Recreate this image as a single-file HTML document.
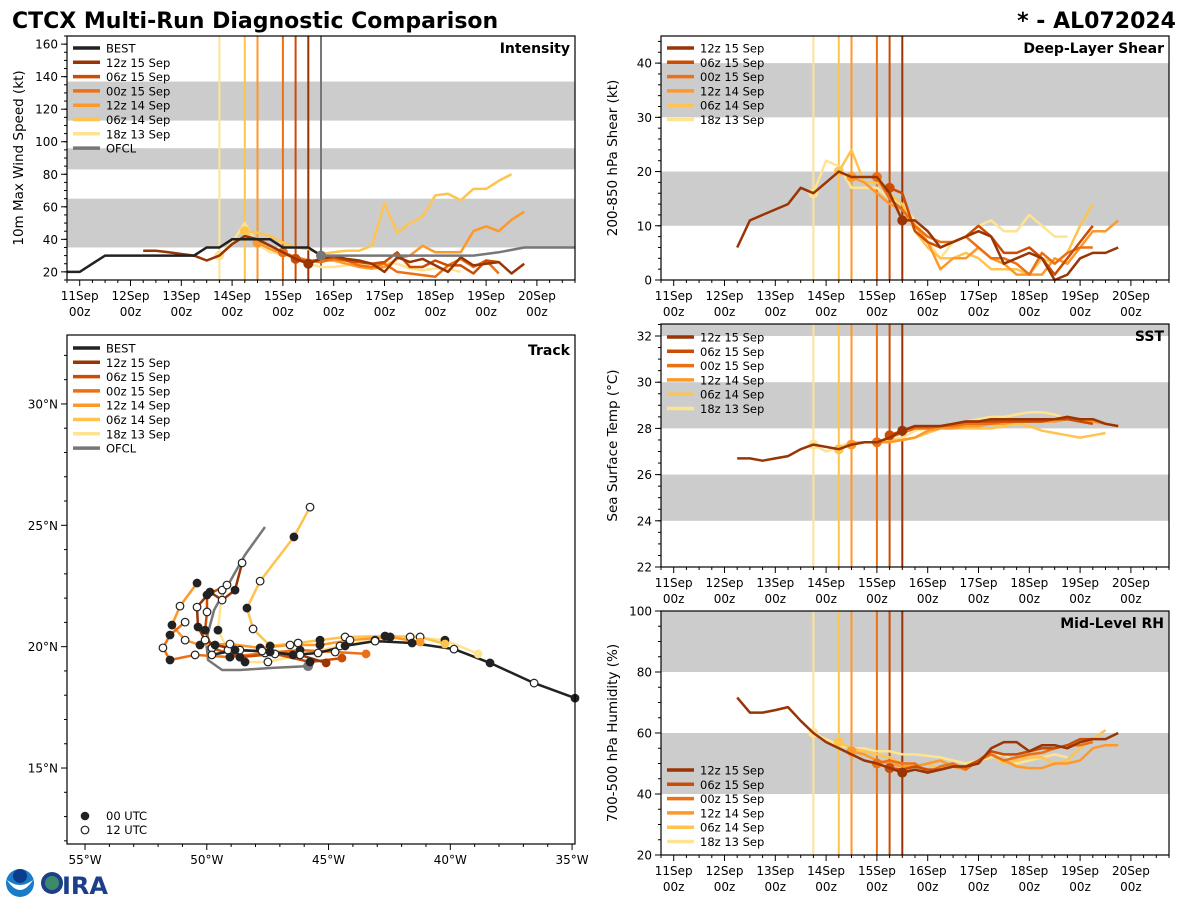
<!DOCTYPE html>
<html><head><meta charset="utf-8"><style>
html,body{margin:0;padding:0;background:#fff;}
svg{display:block;font-family:"DejaVu Sans","Liberation Sans",sans-serif;}
</style></head><body>
<svg id="chart" width="1200" height="900" viewBox="0 0 1200 900" xmlns="http://www.w3.org/2000/svg">
<text x="12" y="28" font-size="22" font-weight="bold">CTCX Multi-Run Diagnostic Comparison</text>
<text x="1176" y="28" font-size="22" font-weight="bold" text-anchor="end">* - AL072024</text>
<g>
<circle cx="20" cy="883" r="14" fill="#1a7cc9"/>
<path d="M7,880 Q20,900 33,880 Q20,890 7,880Z" fill="#fff"/>
<circle cx="20" cy="876" r="7" fill="#0b3d8c"/>
<circle cx="52" cy="883" r="11" fill="#1d3f8a"/>
<circle cx="52" cy="883" r="7" fill="#3d8a6a"/>
<text x="62" y="894" font-size="24" font-weight="bold" fill="#1d3f8a">IRA</text>
</g>
<g id="root"></g>
</svg>
<script>
// ---------- data ----------
const runNames = ["12z 15 Sep","06z 15 Sep","00z 15 Sep","12z 14 Sep","06z 14 Sep","18z 13 Sep"];
const runColors = ["#993404","#cc4c02","#ec7014","#fe9929","#fec44f","#fee391"];
const runStart = [4.5,4.25,4.0,3.5,3.25,2.75];
const dayLabels = ["11Sep","12Sep","13Sep","14Sep","15Sep","16Sep","17Sep","18Sep","19Sep","20Sep"];

const bestIntDay0 = -0.25;
const bestInt = [20,20,25,30,30,30,30,30,30,30,30,35,35,40,40,40,40,35,35,35,30];
const ofclDays = [4.75,5.25,5.75,6.25,6.75,7.25,7.75,8.25,8.75,9.75];
const ofclInt = [30,30,30,30,30,30,30,32,35,35];
const intStart = [1.25,4.25,4.0,3.5,3.25,2.75];
const intVals = [
 [33,33,32,31,30,27,30,37,42,40,36,32,28,25,28,30,28,27,25,20,29,26,28,24,20,29,24,25,26,19,25],
 [28,26,28,29,27,26,25,26,32,23,23,27,24,24,19,27,26],
 [32,29,27,26,28,27,24,23,25,20,19,18,17,24,28,23,27,19],
 [38,34,31,29,27,27,27,25,23,22,23,28,30,36,32,32,32,45,48,45,52,57],
 [45,44,42,38,35,34,31,32,33,33,36,62,44,50,54,67,68,64,71,71,76,80],
 [30,38,50,37,32,31,28,25,23,23,24,25,25,26,25,22,21,22,22,20]
];
const shearStart = [1.25,4.25,4.0,3.5,3.25,2.75];
const shearVals = [
 [6,11,12,13,14,17,16,18,20,19,19,19,16,11,11,9,6,7,8,9,8,3,4,5,4,0,1,4,5,5,6],
 [17,16,9,7,6,7,8,10,8,5,5,6,4,1,4,7,10],
 [19,15,13,10,8,7,7,8,6,4,4,3,1,5,3,5,6,6],
 [19,18,16,14,13,10,7,2,4,4,6,4,3,1,1,1,4,3,6,9,9,11],
 [20,24,18,18,16,14,9,6,4,4,5,4,2,2,2,1,4,3,5,10,14],
 [16,22,21,17,17,17,15,14,11,7,4,7,8,10,11,9,9,12,10,8,8]
];
const sstStart = [1.25,4.25,4.0,3.5,3.25,2.75];
const sstVals = [
 [26.7,26.7,26.6,26.7,26.8,27.1,27.3,27.2,27.1,27.3,27.4,27.4,27.6,27.9,28.1,28.1,28.1,28.2,28.3,28.3,28.4,28.4,28.4,28.4,28.4,28.4,28.5,28.4,28.4,28.2,28.1],
 [27.7,27.9,28.1,28.1,28.1,28.2,28.3,28.3,28.3,28.3,28.3,28.3,28.3,28.4,28.4,28.3,28.2],
 [27.4,27.6,27.8,28.0,28.0,28.1,28.1,28.2,28.2,28.2,28.3,28.3,28.3,28.4,28.4,28.5,28.3,28.2],
 [27.3,27.4,27.4,27.4,27.5,27.6,27.9,28.0,28.0,28.1,28.1,28.2,28.2,28.3,28.3,28.3,28.3,28.4,28.4,28.3,28.2,28.1],
 [27.1,27.4,27.4,27.4,27.5,27.5,27.6,27.8,28.0,28.0,28.0,28.0,28.0,28.1,28.2,28.1,27.9,27.8,27.7,27.6,27.7,27.8],
 [27.3,27.0,27.2,27.4,27.4,27.4,27.5,27.6,27.9,28.0,28.1,28.2,28.3,28.4,28.5,28.5,28.6,28.7,28.7,28.6,28.4]
];
const rhStart = [1.25,4.25,4.0,3.5,3.25,2.75];
const rhVals = [
 [71.6,66.7,66.7,67.5,68.5,64,60,57,55,53,51,50,48.5,47,48,47,48,49,49,50,55,57,57,54,56,56,55,57,58,58,60],
 [48.5,48,49,48,48,49,49,51,54,53,53,54,55,55,56,58,58],
 [50,51,50,50,47,49,50,48,51,53,51,52,53,53.5,55,56,56,57],
 [54,53,51,50,49,49,50,51,49,48,51,53,51,49,48.5,48.5,50,50,51,55,56,56],
 [57,55,54,53,52,50,49,50,48,49,49,51,53,50,51,52,52,50,51,55,58,61],
 [60,58,56,55,55,54,54,53,53,52.5,52,51,50,51,52,53,50,51,52,53,52]
];
const bestLon = [-34.88,-36.56,-38.37,-39.85,-41.57,-43.09,-44.32,-45.43,-46.46,-47.73,-48.84,-49.79];
const bestLat = [17.88,18.50,19.33,19.90,20.15,20.23,20.03,19.74,19.66,19.82,19.86,19.66];
const ofclLon = [-45.84,-47.40,-48.64,-49.37,-49.95,-50.03,-49.70,-49.13,-48.43,-47.61];
const ofclLat = [19.20,19.12,19.04,19.04,19.45,20.27,21.51,22.54,23.78,24.93];
const trackLon = [
 [-45.10,-46.17,-47.40,-48.64,-49.66,-50.07,-50.36,-50.40,-49.87,-49.37,-48.84,-48.55],
 [-44.45,-45.76,-47.20,-48.64,-49.79,-50.07,-49.99,-49.99,-49.17],
 [-43.46,-44.73,-46.17,-47.61,-49.05,-50.48,-51.51,-51.80,-51.51,-50.89],
 [-41.24,-42.47,-44.12,-45.35,-46.58,-47.81,-49.05,-50.28,-50.89,-51.43,-51.10,-50.40],
 [-40.22,-41.24,-42.68,-44.32,-45.35,-46.25,-47.40,-48.10,-48.35,-47.81,-46.42,-45.76],
 [-38.86,-40.22,-41.65,-43.09,-44.53,-46.17,-47.49,-48.43,-49.13,-49.54,-49.37]
];
const trackLat = [
 [19.33,19.66,19.78,19.86,20.07,20.27,20.81,21.63,22.25,21.92,22.33,23.45],
 [19.53,19.37,19.70,19.57,19.94,20.68,21.43,22.13,22.54],
 [19.70,19.78,19.86,19.74,19.57,19.66,19.45,19.95,20.48,21.01],
 [20.19,20.40,20.27,20.07,20.07,19.95,20.11,20.07,20.27,20.89,21.67,22.62],
 [20.11,20.40,20.44,20.40,20.27,20.15,20.03,20.73,21.59,22.70,24.52,25.75],
 [19.70,20.27,20.40,20.27,20.03,19.66,19.37,19.37,19.86,20.68,22.33]
];

// ---------- drawing ----------
const NS="http://www.w3.org/2000/svg";
const root=document.getElementById('root');
function mk(tag,attrs,parent){const e=document.createElementNS(NS,tag);for(const k in attrs)e.setAttribute(k,attrs[k]);(parent||root).appendChild(e);return e;}
function txt(x,y,s,attrs,parent){const e=mk('text',Object.assign({x:x,y:y,'font-size':12},attrs||{}),parent);e.textContent=s;return e;}
const DMIN=-0.25,DMAX=9.75;

function panel(name,x0,y0,w,h,ymin,ymax,bands,majStep,minStep,ylabel,title){
  const g=mk('g',{});
  
  
  const X=d=>x0+(d-DMIN)/(DMAX-DMIN)*w;
  const Y=v=>y0+h-(v-ymin)/(ymax-ymin)*h;
  bands.forEach(b=>{const r=mk('rect',{x:x0,y:Y(Math.min(b[1],ymax)),width:w,height:Y(b[0])-Y(Math.min(b[1],ymax)),fill:'#cccccc'},g);
    });
  for(let v=ymin;v<=ymax+1e-6;v+=minStep){const yy=Y(v);mk('line',{x1:x0-3,x2:x0,y1:yy,y2:yy,stroke:'#000','stroke-width':1},g);}
  for(let v=Math.ceil(ymin/majStep)*majStep;v<=ymax+1e-6;v+=majStep){const yy=Y(v);mk('line',{x1:x0-6,x2:x0,y1:yy,y2:yy,stroke:'#000','stroke-width':1},g);
    const t=txt(x0-9,yy+4.5,String(Math.round(v*10)/10),{'text-anchor':'end','font-size':12},g);}
  for(let d=DMIN;d<=DMAX+1e-6;d+=0.25){const xx=X(d);const maj=Math.abs(d-Math.round(d))<1e-6;mk('line',{x1:xx,x2:xx,y1:y0+h,y2:y0+h+(maj?6:3),stroke:'#000','stroke-width':1},g);}
  dayLabels.forEach((l,i)=>{const xx=X(i);const t=txt(xx,y0+h+20,l,{'text-anchor':'middle','font-size':12},g);
    txt(xx,y0+h+36,'00z',{'text-anchor':'middle','font-size':12},g);});
  const yl=txt(0,0,ylabel,{'text-anchor':'middle','font-size':13.5,transform:`translate(${x0-44},${y0+h/2}) rotate(-90)`},g);
  
  const tt=txt(x0+w-5,y0+17,title,{'text-anchor':'end','font-size':14,'font-weight':'bold'},g);
  
  return {g,X,Y,x0,y0,w,h};
}
function vlines(p,withOfcl){
  runStart.forEach((d,i)=>{const l=mk('line',{x1:p.X(d),x2:p.X(d),y1:p.y0,y2:p.y0+p.h,stroke:runColors[i],'stroke-width':2},p.g);
    });
  if(withOfcl){const l=mk('line',{x1:p.X(4.75),x2:p.X(4.75),y1:p.y0,y2:p.y0+p.h,stroke:'#777','stroke-width':2},p.g);
    }
}
function series(p,starts,vals){
  for(let i=vals.length-1;i>=0;i--){
    const pts=vals[i].map((v,k)=>p.X(starts[i]+0.25*k).toFixed(1)+','+p.Y(v).toFixed(1)).join(' ');
    const pl=mk('polyline',{points:pts,fill:'none',stroke:runColors[i],'stroke-width':2.5,'stroke-linejoin':'round'},p.g);
    
    
    const k=Math.round((runStart[i]-starts[i])/0.25);
    if(k>=0&&k<vals[i].length){const c=mk('circle',{cx:p.X(runStart[i]),cy:p.Y(vals[i][k]),r:5,fill:runColors[i]},p.g);
      }
  }
}
function legend(g,x,y,names,colors){
  names.forEach((n,i)=>{const yy=y+i*14.3;
    const l=mk('line',{x1:x,x2:x+27,y1:yy,y2:yy,stroke:colors[i],'stroke-width':3.5},g);
    
    const t=txt(x+33,yy+4.5,n,{'font-size':11.5},g);
    });
}
function frame(p){const r=mk('rect',{x:p.x0,y:p.y0,width:p.w,height:p.h,fill:'none',stroke:'#000','stroke-width':1.2},p.g);}

const pI=panel('intensity',67,36,508,244,15,165,[[35,65],[83,96],[113,137]],20,5,'10m Max Wind Speed (kt)','Intensity');
vlines(pI,true);
series(pI,intStart,intVals);
{const pts=bestInt.map((v,k)=>pI.X(bestIntDay0+0.25*k).toFixed(1)+','+pI.Y(v).toFixed(1)).join(' ');
 const b=mk('polyline',{points:pts,fill:'none',stroke:'#222','stroke-width':2.5},pI.g);
 const o=mk('polyline',{points:ofclDays.map((d,k)=>pI.X(d).toFixed(1)+','+pI.Y(ofclInt[k]).toFixed(1)).join(' '),fill:'none',stroke:'#777','stroke-width':2.5},pI.g);
 
 const c=mk('circle',{cx:pI.X(ofclDays[0]),cy:pI.Y(ofclInt[0]),r:5,fill:'#777'},pI.g);}
legend(pI.g,73,48,['BEST'].concat(runNames,['OFCL']),['#222'].concat(runColors,['#777']));
frame(pI);

const pS=panel('shear',661,36,508,244,0,45,[[10,20],[30,40]],10,2,'200-850 hPa Shear (kt)','Deep-Layer Shear');
vlines(pS,false);series(pS,shearStart,shearVals);legend(pS.g,667,48,runNames,runColors);frame(pS);

const pT=panel('sst',661,324,508,243,22,32.52,[[24,26],[28,30],[32,33]],2,0.5,'Sea Surface Temp (°C)','SST');
vlines(pT,false);series(pT,sstStart,sstVals);legend(pT.g,667,337,runNames,runColors);frame(pT);

const pR=panel('rh',661,611,508,244,20,100,[[40,60],[80,100]],20,5,'700-500 hPa Humidity (%)','Mid-Level RH');
vlines(pR,false);series(pR,rhStart,rhVals);legend(pR.g,667,770,runNames,runColors);frame(pR);

(function(){
  const x0=67,y0=335,w=508,h=509;
  const LMIN=-55.74,LMAX=-34.88,AMIN=11.87,AMAX=32.84;
  const g=mk('g',{});
  
  
  const X=l=>x0+(l-LMIN)/(LMAX-LMIN)*w, Y=a=>y0+h-(a-AMIN)/(AMAX-AMIN)*h;
  for(let l=-55;l<=-35;l++){const xx=X(l),maj=l%5===0;mk('line',{x1:xx,x2:xx,y1:y0+h,y2:y0+h+(maj?6:3),stroke:'#000'},g);
    if(maj){const t=txt(xx,y0+h+20,(-l)+'°W',{'text-anchor':'middle','font-size':12},g);}}
  for(let a=12;a<=32;a++){const yy=Y(a),maj=a%5===0;mk('line',{x1:x0-(maj?6:3),x2:x0,y1:yy,y2:yy,stroke:'#000'},g);
    if(maj){const t=txt(x0-9,yy+4.5,a+'°N',{'text-anchor':'end','font-size':12},g);}}
  const tt=txt(x0+w-5,y0+20,'Track',{'text-anchor':'end','font-size':14,'font-weight':'bold'},g);
  function path(lons,lats,color,name){const pl=mk('polyline',{points:lons.map((l,k)=>X(l).toFixed(1)+','+Y(lats[k]).toFixed(1)).join(' '),fill:'none',stroke:color,'stroke-width':2.5,'stroke-linejoin':'round'},g);
    }
  function dots(lons,lats,first,startFilled){lons.forEach((l,k)=>{let fill,st;
      if(k===0&&first){fill=first;st=first;}else{const f=((k+(startFilled?0:1))%2)===0;fill=f?'#222':'#fff';st='#222';}
      const c=mk('circle',{cx:X(l),cy:Y(lats[k]),r:3.8,fill:fill,stroke:st,'stroke-width':1.2},g);
      });}
  path(ofclLon,ofclLat,'#777','track-ofcl');
  for(let i=trackLon.length-1;i>=0;i--){path(trackLon[i],trackLat[i],runColors[i],'track-'+runNames[i].replace(/ /g,'-').toLowerCase());}
  path(bestLon,bestLat,'#222','track-best');
  {const c=mk('circle',{cx:X(ofclLon[0]),cy:Y(ofclLat[0]),r:5,fill:'#777'},g);}
  for(let i=trackLon.length-1;i>=0;i--){dots(trackLon[i],trackLat[i],runColors[i],i%2===0);}
  dots(bestLon,bestLat,null,true);
  legend(g,73,348,['BEST'].concat(runNames,['OFCL']),['#222'].concat(runColors,['#777']));
  const c1=mk('circle',{cx:85,cy:816,r:3.8,fill:'#222',stroke:'#222'},g);
  const t1=txt(106,820,'00 UTC',{'font-size':11.5},g);
  const c2=mk('circle',{cx:85,cy:830,r:3.8,fill:'#fff',stroke:'#222','stroke-width':1.2},g);
  const t2=txt(106,834,'12 UTC',{'font-size':11.5},g);
  const r=mk('rect',{x:x0,y:y0,width:w,height:h,fill:'none',stroke:'#000','stroke-width':1.2},g);
})();
</script>
</body></html>
